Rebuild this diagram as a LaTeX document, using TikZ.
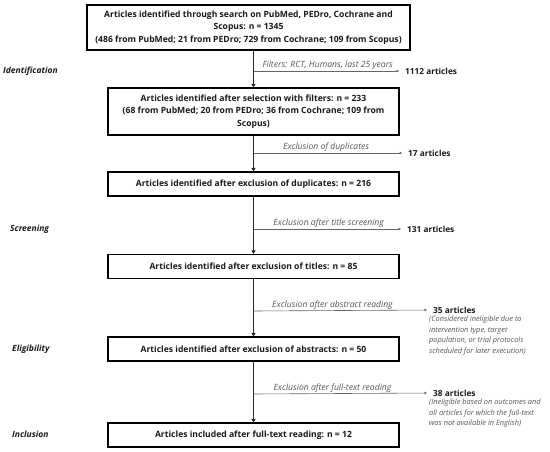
\documentclass[tikz,border=0pt]{standalone}
\usepackage{fontspec}
\setmainfont{Open Sans}
\usetikzlibrary{arrows.meta}
\definecolor{txtgray}{HTML}{555555}
\definecolor{linegray}{HTML}{666666}
\tikzset{
  box/.style={draw=black, line width=1.1pt, minimum width=291pt, inner sep=2pt,
    align=center, font=\fontsize{8.6}{12.5}\selectfont\bfseries, text=black!90},
  mainline/.style={draw=black!85, line width=1.3pt, -{Triangle[length=3.5pt,width=4pt]}},
  sideline/.style={draw=linegray, line width=0.6pt, -{Triangle[length=2.5pt,width=2.5pt]}, shorten >=6pt},
  sidelbl/.style={font=\fontsize{8.6}{10}\selectfont\itshape, text=txtgray, inner sep=1pt, above},
  countlbl/.style={font=\fontsize{8.3}{10}\selectfont\bfseries, text=black!90, anchor=west, inner sep=0pt},
  notelbl/.style={font=\fontsize{7.4}{10.4}\selectfont\itshape, text=txtgray, anchor=north west, align=left, inner sep=0pt},
  phase/.style={font=\fontsize{8.5}{10}\selectfont\bfseries\itshape, text=black!90, anchor=west, inner sep=0pt}
}
\begin{document}
\begin{tikzpicture}[x=1pt,y=-1pt]
\path[use as bounding box] (0,0) rectangle (550,452);
% boxes
\node[box, minimum width=323pt, minimum height=45pt] (b1) at (248.5,27.5)
  {Articles identified through search on PubMed, PEDro, Cochrane and\\Scopus: n = 1345\\(486 from PubMed; 21 from PEDro; 729 from Cochrane; 109 from Scopus)};
\node[box, minimum height=47pt] (b2) at (253.5,111.5)
  {Articles identified after selection with filters: n = 233\\(68 from PubMed; 20 from PEDro; 36 from Cochrane; 109 from\\Scopus)};
\node[box, minimum height=24pt] (b3) at (253.5,184)
  {Articles identified after exclusion of duplicates: n = 216};
\node[box, minimum height=24pt] (b4) at (253.5,266.5)
  {Articles identified after exclusion of titles: n = 85};
\node[box, minimum height=24pt] (b5) at (253.5,349)
  {Articles identified after exclusion of abstracts: n = 50};
\node[box, minimum height=24pt] (b6) at (253.5,435)
  {Articles included after full-text reading: n = 12};
% phase labels
\node[phase] (p1) at (3,71) {Identification};
\node[phase] (p2) at (10,229) {Screening};
\node[phase] (p3) at (12,349) {Eligibility};
\node[phase] (p4) at (12,434) {Inclusion};
% main flow
\draw[mainline] (b1.south -| b2.north) -- (b2.north);
\draw[mainline] (b2.south) -- (b3.north);
\draw[mainline] (b3.south) -- (b4.north);
\draw[mainline] (b4.south) -- (b5.north);
\draw[mainline] (b5.south) -- (b6.north);
% side branches
\coordinate (j1) at (253.5,71);
\coordinate (j2) at (253.5,153);
\coordinate (j3) at (253.5,229);
\coordinate (j4) at (253.5,311);
\coordinate (j5) at (253.5,394);
\node[countlbl] (c1) at (405,71) {1112 articles};
\node[countlbl] (c2) at (408,153) {17 articles};
\node[countlbl] (c3) at (407,229) {131 articles};
\node[countlbl] (c4) at (433,310) {35 articles};
\node[countlbl] (c5) at (433,393) {38 articles};
\draw[sideline] (j1) -- node[sidelbl, pos=0.49] {Filters: RCT, Humans, last 25 years} (c1.west);
\draw[sideline] (j2) -- node[sidelbl, pos=0.47] {Exclusion of duplicates} (c2.west);
\draw[sideline] (j3) -- node[sidelbl, pos=0.49] {Exclusion after title screening} (c3.west);
\draw[sideline] (j4) -- node[sidelbl, pos=0.44] {Exclusion after abstract reading} (c4.west);
\draw[sideline] (j5) -- node[sidelbl, pos=0.44] {Exclusion after full-text reading} (c5.west);
% notes
\node[notelbl] (n4) at (429,316) {(Considered ineligible due to\\intervention type, target\\population, or trial protocols\\scheduled for later execution)};
\node[notelbl] (n5) at (429,399) {(Ineligible based on outcomes and\\all articles for which the full-text\\was not available in English)};
\end{tikzpicture}
\end{document}
